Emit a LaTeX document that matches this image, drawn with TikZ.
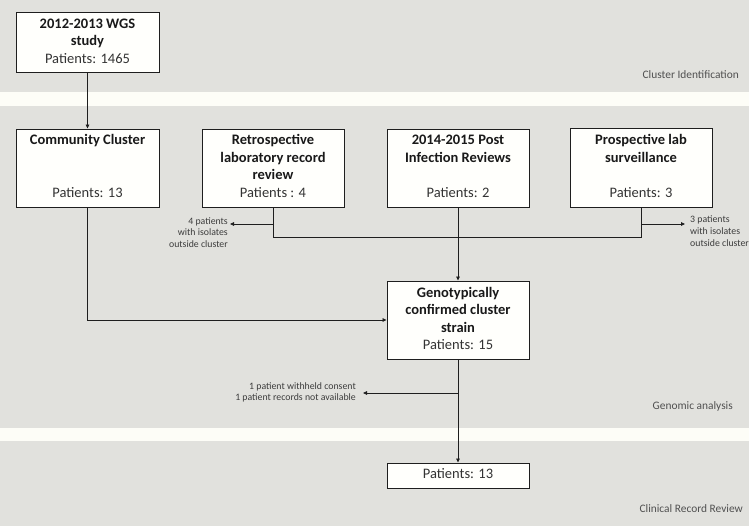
\documentclass[tikz,border=0pt]{standalone}
\usepackage{fontspec}
\setmainfont{Carlito}
\usetikzlibrary{arrows.meta}
\definecolor{bandgray}{RGB}{225,225,221}
\definecolor{bandwhite}{RGB}{253,253,247}
\definecolor{boxfill}{RGB}{255,255,252}
\definecolor{linec}{RGB}{30,30,30}
\definecolor{smalltxt}{RGB}{60,60,60}
\definecolor{bandtxt}{RGB}{80,80,80}
\tikzset{
  stagebox/.style={draw=linec, line width=0.9pt, fill=boxfill, inner sep=0pt},
  titletxt/.style={font=\fontsize{14.5}{17.5}\selectfont\bfseries, text=black!90, anchor=mid, inner sep=0pt},
  pattxt/.style={font=\fontsize{14.5}{17.5}\selectfont, text=black!80, anchor=mid, inner sep=0pt},
  notetxt/.style={font=\fontsize{9.8}{11.7}\selectfont, text=smalltxt, inner sep=0pt},
  bandlbl/.style={font=\fontsize{11.4}{13}\selectfont, text=bandtxt, anchor=mid east, inner sep=0pt},
  conn/.style={draw=linec, line width=0.8pt},
  arr/.style={conn, -{Triangle[length=4pt,width=3.6pt]}}
}
\begin{document}
\begin{tikzpicture}[x=1pt,y=-1pt]
\useasboundingbox (0,0) rectangle (749,526);
% bands
\fill[bandgray] (0,0) rectangle (749,526);
\fill[bandwhite] (0,92) rectangle (749,106);
\fill[bandwhite] (0,428) rectangle (749,441);
\node[bandlbl] (lb1) at (739,76) {Cluster Identification};
\node[bandlbl] (lb2) at (733,407) {Genomic analysis};
\node[bandlbl] (lb3) at (743,510) {Clinical Record Review};

% boxes
\node[stagebox, minimum width=143pt, minimum height=60pt] (wgs) at (87.5,42) {};
\node[stagebox, minimum width=143pt, minimum height=78pt] (comm) at (87.5,168) {};
\node[stagebox, minimum width=142pt, minimum height=78pt] (retro) at (273,168) {};
\node[stagebox, minimum width=142pt, minimum height=78pt] (post) at (458,168) {};
\node[stagebox, minimum width=142pt, minimum height=79pt] (prosp) at (641,167.5) {};
\node[stagebox, minimum width=142pt, minimum height=78pt] (geno) at (458,320) {};
\node[stagebox, minimum width=142pt, minimum height=25pt] (final) at (458,475.5) {};

% box texts
\node[titletxt] (wgs1) at (87.5,26) {2012-2013 WGS};
\node[titletxt] (wgs2) at (87.5,43.5) {study};
\node[pattxt] (wgs3) at (87.5,61.5) {Patients: 1465};

\node[titletxt] (comm1) at (87.5,142) {Community Cluster};
\node[pattxt] (comm2) at (87.5,195) {Patients: 13};

\node[titletxt] (retro1) at (273,142.5) {Retrospective};
\node[titletxt] (retro2) at (273,160) {laboratory record};
\node[titletxt] (retro3) at (273,177.5) {review};
\node[pattxt] (retro4) at (273,195) {Patients : 4};

\node[titletxt] (post1) at (458,142.5) {2014-2015 Post};
\node[titletxt] (post2) at (458,160) {Infection Reviews};
\node[pattxt] (post3) at (458,195) {Patients: 2};

\node[titletxt] (prosp1) at (641,142.5) {Prospective lab};
\node[titletxt] (prosp2) at (641,160) {surveillance};
\node[pattxt] (prosp3) at (641,195) {Patients: 3};

\node[titletxt] (geno1) at (458,295) {Genotypically};
\node[titletxt] (geno2) at (458,312.5) {confirmed cluster};
\node[titletxt] (geno3) at (458,330.5) {strain};
\node[pattxt] (geno4) at (458,347.5) {Patients: 15};

\node[pattxt] (final1) at (458,476.5) {Patients: 13};

% side notes
\node[notetxt, align=right, anchor=east] (n4) at (228,232.5) {4 patients\\with isolates\\outside cluster};
\node[notetxt, align=left, anchor=west] (n3) at (690,231) {3 patients\\with isolates\\outside cluster};
\node[notetxt, align=right, anchor=east] (n1) at (356,392.5) {1 patient withheld consent\\1 patient records not available};

% junction coordinates
\coordinate (jr) at (273,237);
\coordinate (jp) at (641,237);
\coordinate (ar) at (273,224);
\coordinate (ap) at (641,224);
\coordinate (ag) at (458,393);

% connectors
\draw[arr] (wgs.south) -- (comm.north);
\draw[arr] (comm.south) |- (geno.west);
\draw[conn] (retro.south) -- (jr) -- (jp) -- (prosp.south);
\draw[arr] (post.south) -- (geno.north);
\draw[arr] (ar) -- ([xshift=2pt]n4.east |- ar);
\draw[arr] (ap) -- ([xshift=-5pt]n3.west |- ap);
\draw[arr] (geno.south) -- (final.north);
\draw[arr] (ag) -- ([xshift=7pt]n1.east |- ag);
\end{tikzpicture}
\end{document}
